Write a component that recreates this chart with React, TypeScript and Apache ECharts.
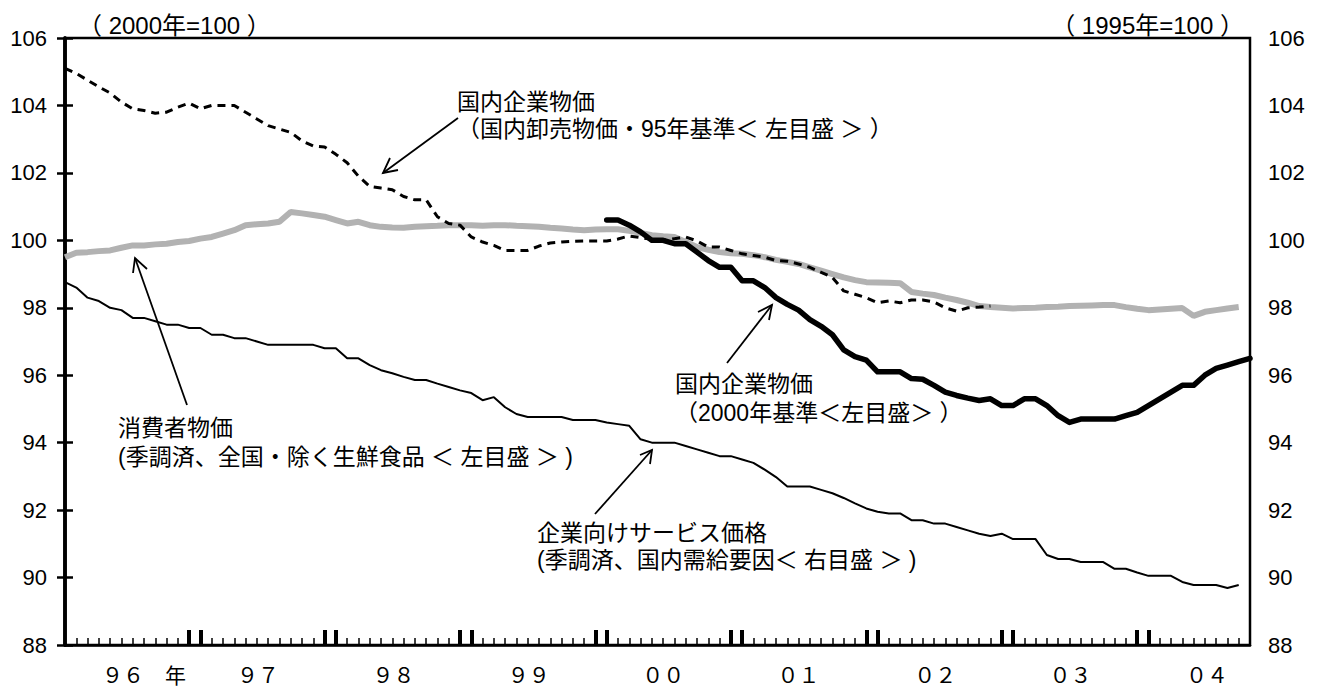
import React, { useEffect, useRef } from "react";
import * as echarts from "echarts";

// x: month index, 0 = Jan 1996
const xMin = 0;
const xMax = 105;

// 国内企業物価（国内卸売物価・95年基準）, from Jan 1996
const wpi95 = [
  105.1, 104.95, 104.75, 104.55, 104.37, 104.1, 103.9, 103.85, 103.77, 103.8, 103.95, 104.07,
  103.9, 104.0, 104.0, 104.0, 103.8, 103.6, 103.4, 103.3, 103.2, 102.95, 102.8, 102.77,
  102.55, 102.3, 101.9, 101.6, 101.55, 101.5, 101.3, 101.2, 101.2, 100.7, 100.5, 100.45,
  100.1, 99.95, 99.85, 99.7, 99.7, 99.7, 99.83, 99.92, 99.95, 99.97, 99.98, 99.98,
  99.98, 100.04, 100.13, 100.08, 100.03, 100.0, 100.05, 100.1, 99.98, 99.8, 99.8, 99.7,
  99.6, 99.55, 99.5, 99.4, 99.38, 99.3, 99.2, 99.05, 98.9, 98.5, 98.4, 98.3,
  98.15, 98.2, 98.15, 98.23, 98.23, 98.17, 98.0, 97.9, 98.0, 98.02, 98.05,
];

// 消費者物価（季調済、全国・除く生鮮食品）, from Jan 1996
const cpi = [
  99.5, 99.63, 99.65, 99.68, 99.7, 99.78, 99.85, 99.85, 99.88, 99.9, 99.95, 99.98,
  100.05, 100.1, 100.2, 100.3, 100.45, 100.48, 100.5, 100.55, 100.84, 100.8, 100.75, 100.7,
  100.6, 100.5, 100.55, 100.45, 100.4, 100.38, 100.37, 100.4, 100.42, 100.43, 100.45, 100.45,
  100.45, 100.43, 100.45, 100.45, 100.43, 100.42, 100.4, 100.37, 100.35, 100.32, 100.3, 100.32,
  100.33, 100.33, 100.28, 100.22, 100.15, 100.12, 100.1, 99.95, 99.8, 99.72, 99.65, 99.62,
  99.6, 99.56, 99.5, 99.42, 99.36, 99.3, 99.2, 99.1, 99.0, 98.9, 98.82, 98.76,
  98.75, 98.74, 98.73, 98.47, 98.42, 98.38, 98.3, 98.23, 98.15, 98.05, 98.02, 98.0,
  97.98, 97.99, 98.0, 98.02, 98.03, 98.05, 98.06, 98.07, 98.08, 98.08, 98.02, 97.97,
  97.93, 97.95, 97.97, 97.99, 97.76, 97.88, 97.93, 97.98, 98.02,
];

// 国内企業物価（2000年基準）, from Jan 2000 (month index 48)
const cgpi00Start = 48;
const cgpi00 = [
  100.6, 100.6, 100.45, 100.25, 100.0, 100.0, 99.9, 99.9, 99.65, 99.4, 99.2, 99.2,
  98.8, 98.8, 98.6, 98.3, 98.1, 97.93, 97.65, 97.45, 97.2, 96.75, 96.55, 96.45,
  96.1, 96.1, 96.1, 95.9, 95.88, 95.7, 95.5, 95.4, 95.32, 95.25, 95.3, 95.1,
  95.1, 95.3, 95.3, 95.1, 94.8, 94.6, 94.7, 94.7, 94.7, 94.7, 94.8, 94.9,
  95.1, 95.3, 95.5, 95.7, 95.7, 96.0, 96.2, 96.3, 96.4, 96.5,
];

// 企業向けサービス価格（季調済、国内需給要因）, right axis, from Jan 1996
const sppi = [
  98.76, 98.6, 98.3, 98.2, 98.0, 97.93, 97.7, 97.7, 97.6, 97.5, 97.5, 97.4,
  97.4, 97.2, 97.2, 97.1, 97.1, 97.0, 96.9, 96.9, 96.9, 96.9, 96.9, 96.8,
  96.8, 96.5, 96.5, 96.3, 96.15, 96.06, 95.95, 95.86, 95.86, 95.75, 95.65, 95.55,
  95.47, 95.26, 95.35, 95.05, 94.85, 94.76, 94.76, 94.76, 94.76, 94.67, 94.67, 94.67,
  94.6, 94.55, 94.5, 94.1, 94.0, 94.0, 94.0, 93.9, 93.8, 93.7, 93.6, 93.6,
  93.5, 93.4, 93.2, 92.98, 92.7, 92.7, 92.7, 92.6, 92.5, 92.36, 92.2, 92.05,
  91.95, 91.9, 91.9, 91.7, 91.7, 91.6, 91.6, 91.5, 91.4, 91.3, 91.23, 91.3,
  91.14, 91.14, 91.14, 90.67, 90.55, 90.55, 90.46, 90.46, 90.46, 90.26, 90.26, 90.15,
  90.05, 90.05, 90.05, 89.87, 89.78, 89.78, 89.78, 89.69, 89.78,
];

const yearLabels = ["９６　年", "９７", "９８", "９９", "００", "０１", "０２", "０３", "０４"];
const yearLabelPos = [7.0, 17.1, 29.1, 41.1, 53.0, 65.0, 77.1, 89.1, 101.2];
const yearBoundaryTicks = [11, 12, 23, 24, 35, 36, 47, 48, 59, 60, 71, 72, 83, 84, 95, 96];

const yMin = 88;
const yMax = 106;
const yStep = 2;

const leftUnit = "（ 2000年=100 ）";
const rightUnit = "（ 1995年=100 ）";

const notes = [
  { lines: ["国内企業物価", "（国内卸売物価・95年基準＜ 左目盛 ＞ ）"], x: 457, y: [102, 129] },
  { lines: ["消費者物価", "(季調済、全国・除く生鮮食品 ＜ 左目盛 ＞ )"], x: 118, y: [428, 457] },
  { lines: ["国内企業物価", "（2000年基準＜左目盛＞ ）"], x: 675, y: [384, 413] },
  { lines: ["企業向けサービス価格", "(季調済、国内需給要因＜ 右目盛 ＞ )"], x: 537, y: [533, 560] },
];

const arrows = [
  { from: [458, 118], to: [383, 173], w1: [390, 158], w2: [398, 170] },
  { from: [187, 405], to: [135, 258], w1: [133, 273], w2: [147, 269] },
  { from: [727, 363], to: [772, 305], w1: [758, 312], w2: [769, 320] },
  { from: [595, 514], to: [652, 450], w1: [640, 455], w2: [650, 464] },
];

const FONT_NUM = "'Liberation Sans', Arial, sans-serif";
const FONT_JP = "'Liberation Sans', 'Noto Sans CJK JP', sans-serif";

export default function App() {
  const ref = useRef<HTMLDivElement>(null);

  useEffect(() => {
    if (!ref.current) return;
    const chart = echarts.init(ref.current, undefined, { renderer: "svg" });

    const monthTicks: number[] = [];
    for (let m = xMin; m <= xMax; m++) monthTicks.push(m);

    const toPairs = (arr: number[], start: number) => arr.map((v, i) => [start + i, v]);

    const graphic: any[] = [
      {
        type: "text",
        x: 78,
        y: 25,
        silent: true,
        style: { text: leftUnit, fill: "#000", font: `24px ${FONT_JP}`, align: "left", verticalAlign: "middle" },
      },
      {
        type: "text",
        x: 1244,
        y: 25,
        silent: true,
        style: { text: rightUnit, fill: "#000", font: `24px ${FONT_JP}`, align: "right", verticalAlign: "middle" },
      },
    ];
    notes.forEach((n) => {
      n.lines.forEach((t, k) => {
        graphic.push({
          type: "text",
          x: n.x,
          y: n.y[k],
          silent: true,
          style: {
            text: t,
            fill: "#000",
            font: `23px ${FONT_JP}`,
            align: "left",
            verticalAlign: "middle",
          },
        });
      });
    });
    arrows.forEach((a) => {
      graphic.push({
        type: "line",
        silent: true,
        shape: { x1: a.from[0], y1: a.from[1], x2: a.to[0], y2: a.to[1] },
        style: { stroke: "#000", lineWidth: 1.8 },
      });
      graphic.push({
        type: "polyline",
        silent: true,
        shape: { points: [a.w1, a.to, a.w2] },
        style: { stroke: "#000", lineWidth: 1.8, fill: null },
      });
    });

    const yAxisBase = {
      type: "value",
      min: yMin,
      max: yMax,
      interval: yStep,
      axisLine: { show: true, lineStyle: { color: "#000", width: 3.5 } },
      axisTick: { show: true, inside: true, length: 8, lineStyle: { color: "#000", width: 2.5 } },
      axisLabel: { color: "#000", fontSize: 22, fontFamily: FONT_NUM, margin: 18 },
      splitLine: { show: false },
    };

    chart.setOption({
      animation: false,
      backgroundColor: "#fff",
      grid: {
        left: 65,
        right: 74,
        top: 38,
        bottom: 46,
        show: true,
        borderColor: "#000",
        borderWidth: 2.5,
        containLabel: false,
        outerBoundsMode: "none",
      },
      xAxis: [
        {
          type: "value",
          min: xMin,
          max: xMax,
          position: "bottom",
          axisLine: { show: true, onZero: false, lineStyle: { color: "#000", width: 2.5 } },
          axisTick: {
            show: true,
            inside: true,
            length: 7,
            customValues: monthTicks,
            lineStyle: { color: "#000", width: 1.5 },
          },
          axisLabel: {
            show: true,
            customValues: yearLabelPos,
            formatter: (v: number) => {
              const i = yearLabelPos.findIndex((p) => Math.abs(p - v) < 1e-6);
              return i >= 0 ? yearLabels[i] : "";
            },
            color: "#000",
            fontSize: 21,
            fontFamily: "'Noto Sans CJK JP', sans-serif",
            margin: 18,
          },
          splitLine: { show: false },
        },
        {
          type: "value",
          min: xMin,
          max: xMax,
          position: "bottom",
          axisLine: { show: false, onZero: false },
          axisTick: {
            show: true,
            inside: true,
            length: 15,
            customValues: yearBoundaryTicks,
            lineStyle: { color: "#000", width: 4 },
          },
          axisLabel: { show: false },
          splitLine: { show: false },
        },
      ],
      yAxis: [
        { ...yAxisBase, position: "left" },
        { ...yAxisBase, position: "right" },
      ],
      graphic,
      series: [
        {
          name: "消費者物価",
          type: "line",
          xAxisIndex: 0,
          yAxisIndex: 0,
          data: toPairs(cpi, 0),
          symbol: "none",
          silent: true,
          lineStyle: { color: "#b2b2b2", width: 6 },
          z: 2,
        },
        {
          name: "国内企業物価（国内卸売物価・95年基準）",
          type: "line",
          xAxisIndex: 0,
          yAxisIndex: 0,
          data: toPairs(wpi95, 0),
          symbol: "none",
          silent: true,
          lineStyle: { color: "#000", width: 3, type: [8, 6] },
          z: 3,
        },
        {
          name: "企業向けサービス価格",
          type: "line",
          xAxisIndex: 0,
          yAxisIndex: 1,
          data: toPairs(sppi, 0),
          symbol: "none",
          silent: true,
          lineStyle: { color: "#000", width: 2 },
          z: 3,
        },
        {
          name: "国内企業物価（2000年基準）",
          type: "line",
          xAxisIndex: 0,
          yAxisIndex: 0,
          data: toPairs(cgpi00, cgpi00Start),
          symbol: "none",
          silent: true,
          lineStyle: { color: "#000", width: 5.5, cap: "round", join: "round" },
          z: 4,
        },
      ],
    });

    return () => chart.dispose();
  }, []);

  return (
    <div
      ref={ref}
      style={{ position: "fixed", left: 0, top: 0, width: 1324, height: 691, background: "#fff" }}
    />
  );
}
